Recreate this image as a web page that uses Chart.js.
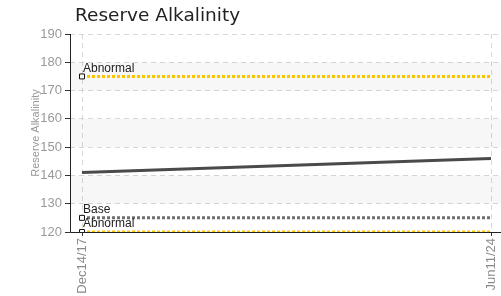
<!DOCTYPE html>
<html>
<head>
<meta charset="utf-8">
<script src="https://cdn.jsdelivr.net/npm/chart.js@4"></script>
<style>
  html, body { margin: 0; padding: 0; background: #fff; }
  canvas { display: block; }
</style>
</head>
<body>
<canvas id="chart" width="501" height="296"></canvas>
<script>
// data
const dateLabels = ["Dec14/17", "Jun11/24"];
const datePos = [0, 1];
const alkalinity = [141, 146];

const refNames = ["Abnormal", "Base", "Abnormal"];
const refValues = [175, 125, 120];
const refColors = ["#FFC400", "#6f6f6f", "#FFC400"];

const bandRanges = [[130, 140], [150, 160], [170, 180]];
const yTicks = [120, 130, 140, 150, 160, 170, 180, 190];

const FONT = "'Liberation Sans', Arial, sans-serif";

const datasets = [
  {
    data: datePos.map((x, i) => ({ x: x, y: alkalinity[i] })),
    borderColor: "#4a4a4a", borderWidth: 3, pointRadius: 0
  },
  {
    data: datePos.map((x, i) => ({ x: x, y: alkalinity[i] })),
    borderColor: "#bdbdbd", borderWidth: 1, borderDash: [14, 14], pointRadius: 0
  }
];
refValues.forEach((v, i) => {
  datasets.push({
    data: datePos.map(x => ({ x: x, y: v })),
    borderColor: refColors[i], borderWidth: 3, borderDash: [3, 2],
    pointStyle: "rect", pointRadius: [3.5, 0], pointBackgroundColor: "#fff",
    pointBorderColor: "#111", pointBorderWidth: 1
  });
});

// shaded bands, axis lines, reference labels, title
const decor = {
  id: "decor",
  beforeDatasetsDraw(chart) {
    const { ctx, chartArea: a, scales: { y } } = chart;
    ctx.save();
    ctx.fillStyle = "rgba(0,0,0,0.03)";
    bandRanges.forEach(([lo, hi]) => {
      ctx.fillRect(a.left, y.getPixelForValue(hi), a.right - a.left, y.getPixelForValue(lo) - y.getPixelForValue(hi));
    });
    ctx.restore();
  },
  afterDatasetsDraw(chart) {
    const { ctx, chartArea: a, scales: { x, y } } = chart;
    ctx.save();
    ctx.strokeStyle = "#222";
    ctx.lineWidth = 1;
    ctx.beginPath();
    ctx.moveTo(a.left + 0.5, a.top);
    ctx.lineTo(a.left + 0.5, a.bottom + 0.5);
    ctx.lineTo(chart.width, a.bottom + 0.5);
    ctx.stroke();

    ctx.font = "12px " + FONT;
    ctx.fillStyle = "#222";
    ctx.textBaseline = "bottom";
    refValues.forEach((v, i) => {
      ctx.fillText(refNames[i], x.getPixelForValue(datePos[0]) + 1, y.getPixelForValue(v) - 2);
    });
    ctx.font = "18.5px 'DejaVu Sans', sans-serif";
    ctx.textBaseline = "alphabetic";
    ctx.fillText("Reserve Alkalinity", 75, 21);
    ctx.restore();
  }
};

new Chart(document.getElementById("chart"), {
  type: "line",
  data: { datasets: datasets },
  options: {
    responsive: false,
    animation: false,
    layout: { padding: { top: 34, right: 0, left: 29, bottom: 0 } },
    plugins: { legend: { display: false }, tooltip: { enabled: false } },
    scales: {
      x: {
        type: "linear",
        min: -12 / 409, max: 1 + 10 / 409,
        afterBuildTicks: s => { s.ticks = datePos.map(v => ({ value: v })); },
        afterFit: s => { s.height = 64; s.paddingLeft = 0; s.paddingRight = 0; },
        ticks: {
          callback: v => dateLabels[datePos.indexOf(v)],
          minRotation: 90, maxRotation: 90, autoSkip: false,
          color: "#8a8a8a", font: { family: FONT, size: 13 }, padding: 2
        },
        grid: { color: "#d8d8d8", tickColor: "#333", tickLength: 4, tickBorderDash: [] },
        border: { display: false, dash: [5, 4] }
      },
      y: {
        min: 120, max: 190,
        afterBuildTicks: s => { s.ticks = yTicks.map(v => ({ value: v })); },
        afterFit: s => { s.width = 41; s.paddingTop = 0; s.paddingBottom = 0; },
        ticks: { color: "#999", font: { family: FONT, size: 13 }, padding: 3 },
        grid: { color: "#d8d8d8", tickColor: "#333", tickLength: 5, tickBorderDash: [] },
        border: { display: false, dash: [5, 4] },
        title: { display: true, text: "Reserve Alkalinity", color: "#999", font: { family: FONT, size: 11 }, padding: 0 }
      }
    }
  },
  plugins: [decor, {
    id: "fullWidth",
    afterLayout(chart) {
      // stretch the plot to the canvas's right edge like the original
      const x = chart.scales.x;
      chart.chartArea.right = chart.width;
      x.right = chart.width;
      x.width = x.right - x.left;
      x.configure();
    }
  }]
});
</script>
</body>
</html>
